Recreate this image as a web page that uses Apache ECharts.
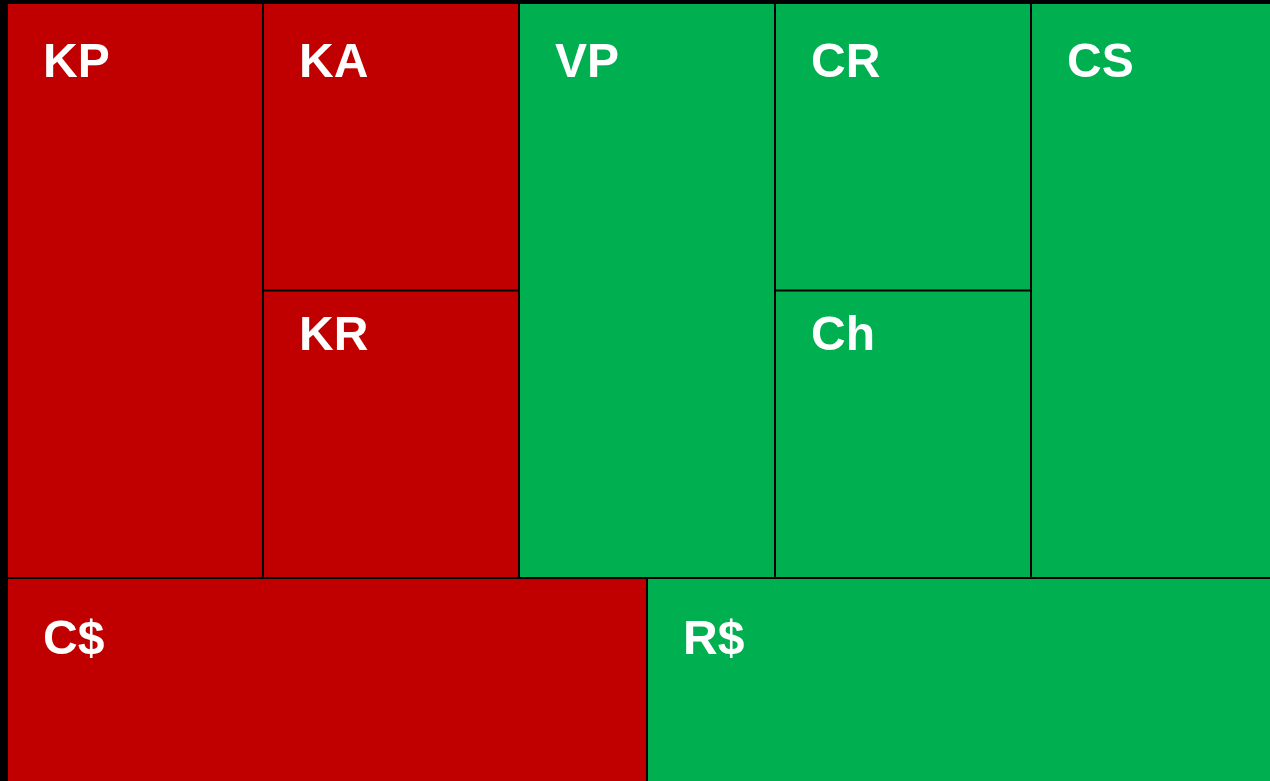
<!DOCTYPE html>
<html>
<head>
<meta charset="utf-8">
<script src="https://cdn.jsdelivr.net/npm/echarts@6/dist/echarts.min.js"></script>
<style>
    html, body { margin: 0; padding: 0; background: #000; }
    #main { width: 1270px; height: 781px; }
</style>
</head>
<body>
<div id="main"></div>
<script>
// top block
var topNames = ['KP', 'KA', 'KR', 'VP', 'CR', 'Ch', 'CS'];
var topValues = [2, 1, 1, 2, 1, 1, 2];
// nesting of the top block, by index into topNames
var topTree = [[0, [1, 2]], [[3, [4, 5]], 6]];

// bottom block
var bottomNames = ['C$', 'R$'];
var bottomValues = [1, 1];
var bottomTree = [0, 1];

// which names are in the red group
var downNames = ['KP', 'KA', 'KR', 'C$'];

var RED = '#C00000';
var GREEN = '#00B050';

// label offsets inside a cell
var labelTop = { KR: 21, Ch: 21, 'C$': 38, 'R$': 38 };
var labelTopDefault = 36;

function buildNodes(tree, names, values) {
    return tree.map(function (t) {
        if (Array.isArray(t)) {
            return {
                name: '',
                itemStyle: { borderWidth: 0, gapWidth: 0 },
                children: buildNodes(t, names, values)
            };
        }
        var name = names[t];
        return {
            name: name,
            value: values[t],
            itemStyle: {
                color: downNames.indexOf(name) >= 0 ? RED : GREEN,
                borderWidth: 1,
                borderColor: '#000'
            },
            label: {
                position: [35, labelTop[name] != null ? labelTop[name] : labelTopDefault]
            }
        };
    });
}

function treemapSeries(data, box) {
    return {
        type: 'treemap',
        left: box.left,
        top: box.top,
        width: box.width,
        height: box.height,
        sort: false,
        roam: false,
        nodeClick: false,
        animation: false,
        breadcrumb: { show: false },
        itemStyle: { borderWidth: 0, gapWidth: 0, borderColor: '#000' },
        label: {
            show: true,
            color: '#fff',
            fontFamily: 'Liberation Sans, Arial, sans-serif',
            fontWeight: 'bold',
            fontSize: 48,
            lineHeight: 48,
            padding: 0,
            formatter: '{b}'
        },
        upperLabel: { show: false },
        emphasis: { disabled: true },
        data: data
    };
}

var myChart = echarts.init(document.getElementById('main'), null, {
    width: 1270,
    height: 781
});

var option = {
    backgroundColor: '#000',
    tooltip: { show: false },
    series: [
        treemapSeries(buildNodes(topTree, topNames, topValues),
            { left: 7, top: 3, width: 1280, height: 575 }),
        treemapSeries(buildNodes(bottomTree, bottomNames, bottomValues),
            { left: 7, top: 578, width: 1280, height: 220 })
    ]
};
myChart.setOption(option);
</script>
</body>
</html>
